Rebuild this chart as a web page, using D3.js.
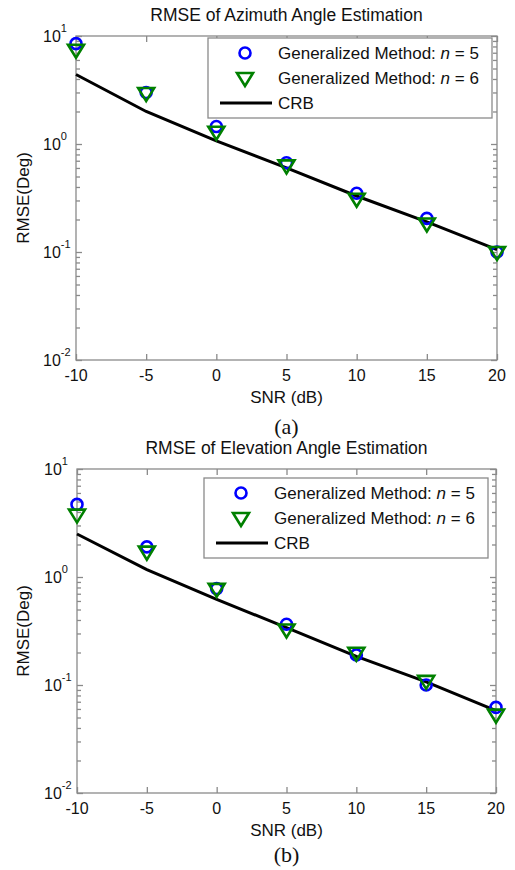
<!DOCTYPE html>
<html>
<head>
<meta charset="UTF-8">
<title>RMSE of Azimuth / Elevation Angle Estimation</title>
<script src="https://cdn.jsdelivr.net/npm/d3@7"></script>
<style>
body { margin:0; background:#fff; }
text { font-family:"Liberation Sans", Arial, sans-serif; fill:#111; }
.caption { font-family:"Liberation Serif", "Times New Roman", serif; }
.axis path, .axis line { stroke:#8a8a8a; stroke-width:1.3; }
</style>
</head>
<body>
<div id="chart"></div>
<script>
// SNR values (dB)
var snr = [-10, -5, 0, 5, 10, 15, 20];
var xTicks = [-10, -5, 0, 5, 10, 15, 20];
var yDecades = [-2, -1, 0, 1];

// (a) azimuth
var aziN5 = [8.5, 3.0, 1.45, 0.67, 0.35, 0.205, 0.1];
var aziN6 = [7.3, 2.9, 1.27, 0.62, 0.305, 0.18, 0.098];
var aziCrb = [4.4, 2.0, 1.07, 0.6, 0.33, 0.19, 0.105];

// (b) elevation
var eleN5 = [4.7, 1.9, 0.78, 0.365, 0.19, 0.1, 0.062];
var eleN6 = [3.7, 1.68, 0.76, 0.32, 0.195, 0.107, 0.052];
var eleCrb = [2.5, 1.17, 0.62, 0.34, 0.184, 0.107, 0.058];

var legendNames = ["Generalized Method: ", "Generalized Method: ", "CRB"];
var legendN = ["5", "6", ""];

var width = 515, height = 870;
var svg = d3.select("#chart").append("svg").attr("width", width).attr("height", height);

function drawPanel(o)
{
  var g = svg.append("g");
  var x = d3.scaleLinear().domain([-10, 20]).range([o.left, o.right]);
  var y = d3.scaleLog().domain([0.01, 10]).range([o.bottom, o.top]);

  // minor + major log ticks
  var minor = [];
  yDecades.slice(0, 3).forEach(function(k){ for (var m = 2; m <= 9; m++) minor.push(m * Math.pow(10, k)); });
  var major = yDecades.map(function(k){ return Math.pow(10, k); });

  g.append("rect").attr("x", o.left).attr("y", o.top)
    .attr("width", o.right - o.left).attr("height", o.bottom - o.top)
    .attr("fill", "none").attr("stroke", "#8a8a8a").attr("stroke-width", 1.3);

  [[d3.axisLeft, o.left], [d3.axisRight, o.right]].forEach(function(a){
    g.append("g").attr("class", "axis").attr("transform", "translate(" + a[1] + ",0)")
      .call(a[0](y).tickValues(major).tickSize(-6).tickFormat(""))
      .call(function(s){ s.select(".domain").remove(); });
    g.append("g").attr("class", "axis").attr("transform", "translate(" + a[1] + ",0)")
      .call(a[0](y).tickValues(minor).tickSize(-4).tickFormat(""))
      .call(function(s){ s.select(".domain").remove(); });
  });
  [[d3.axisBottom, o.bottom], [d3.axisTop, o.top]].forEach(function(a){
    g.append("g").attr("class", "axis").attr("transform", "translate(0," + a[1] + ")")
      .call(a[0](x).tickValues(xTicks).tickSize(-6).tickFormat(""))
      .call(function(s){ s.select(".domain").remove(); });
  });

  // tick labels
  g.selectAll(".xl").data(xTicks).enter().append("text")
    .attr("x", function(d){ return x(d); }).attr("y", o.bottom + 21)
    .attr("text-anchor", "middle").style("font-size", "16px")
    .text(function(d){ return d; });

  var yl = g.selectAll(".yl").data(yDecades).enter().append("text")
    .attr("x", o.left - 33).attr("y", function(d){ return y(Math.pow(10, d)) + 6; })
    .style("font-size", "16px");
  yl.append("tspan").text("10");
  yl.append("tspan").attr("dy", -10).style("font-size", "11px").text(function(d){ return d; });

  // titles
  g.append("text").attr("x", (o.left + o.right) / 2).attr("y", o.top - 15)
    .attr("text-anchor", "middle").style("font-size", "17.5px").text(o.title);
  g.append("text").attr("x", (o.left + o.right) / 2).attr("y", o.bottom + 43)
    .attr("text-anchor", "middle").style("font-size", "17px").text("SNR (dB)");
  g.append("text").attr("transform", "translate(29," + (o.top + o.bottom) / 2 + ") rotate(-90)")
    .attr("text-anchor", "middle").style("font-size", "17px").text("RMSE(Deg)");
  g.append("text").attr("class", "caption").attr("x", (o.left + o.right) / 2).attr("y", o.capY)
    .attr("text-anchor", "middle").style("font-size", "22px").text(o.caption);

  // CRB line
  var line = d3.line().x(function(d, i){ return x(snr[i]); }).y(function(d){ return y(d); });
  g.append("path").datum(o.crb).attr("d", line)
    .attr("fill", "none").attr("stroke", "#000").attr("stroke-width", 3);

  // markers
  g.selectAll(".c5").data(o.n5).enter().append("circle")
    .attr("cx", function(d, i){ return x(snr[i]); }).attr("cy", function(d){ return y(d); })
    .attr("r", 5.5).attr("fill", "none").attr("stroke", "#0000ff").attr("stroke-width", 2.6);
  var tri = "M-8,-6L8,-6L0,7Z";
  g.selectAll(".t6").data(o.n6).enter().append("path")
    .attr("d", tri)
    .attr("transform", function(d, i){ return "translate(" + x(snr[i]) + "," + y(d) + ")"; })
    .attr("fill", "none").attr("stroke", "#008000").attr("stroke-width", 2.6);

  // legend
  var lg = g.append("g").attr("transform", "translate(" + o.legX + "," + o.legY + ")");
  lg.append("rect").attr("width", 284).attr("height", 80)
    .attr("fill", "#fff").attr("stroke", "#8a8a8a").attr("stroke-width", 1.3);
  lg.append("circle").attr("cx", 37).attr("cy", 15).attr("r", 5.5)
    .attr("fill", "none").attr("stroke", "#0000ff").attr("stroke-width", 2.6);
  lg.append("path").attr("d", tri).attr("transform", "translate(37,41)")
    .attr("fill", "none").attr("stroke", "#008000").attr("stroke-width", 2.6);
  lg.append("line").attr("x1", 12).attr("x2", 64).attr("y1", 65).attr("y2", 65)
    .attr("stroke", "#000").attr("stroke-width", 3);
  lg.selectAll(".lt").data(legendNames).enter().append("text")
    .attr("x", 70).attr("y", function(d, i){ return 21 + i * 25; })
    .style("font-size", "17px")
    .each(function(d, i){
      var t = d3.select(this);
      t.append("tspan").text(d);
      if (legendN[i] !== "") {
        t.append("tspan").style("font-style", "italic").text("n");
        t.append("tspan").text(" = " + legendN[i]);
      }
    });
}

drawPanel({ left:76, right:497, top:36, bottom:360, title:"RMSE of Azimuth Angle Estimation",
  caption:"(a)", capY:434, n5:aziN5, n6:aziN6, crb:aziCrb, legX:208, legY:38 });
drawPanel({ left:77, right:496, top:469, bottom:793, title:"RMSE of Elevation Angle Estimation",
  caption:"(b)", capY:862, n5:eleN5, n6:eleN6, crb:eleCrb, legX:204, legY:478 });
</script>
</body>
</html>
